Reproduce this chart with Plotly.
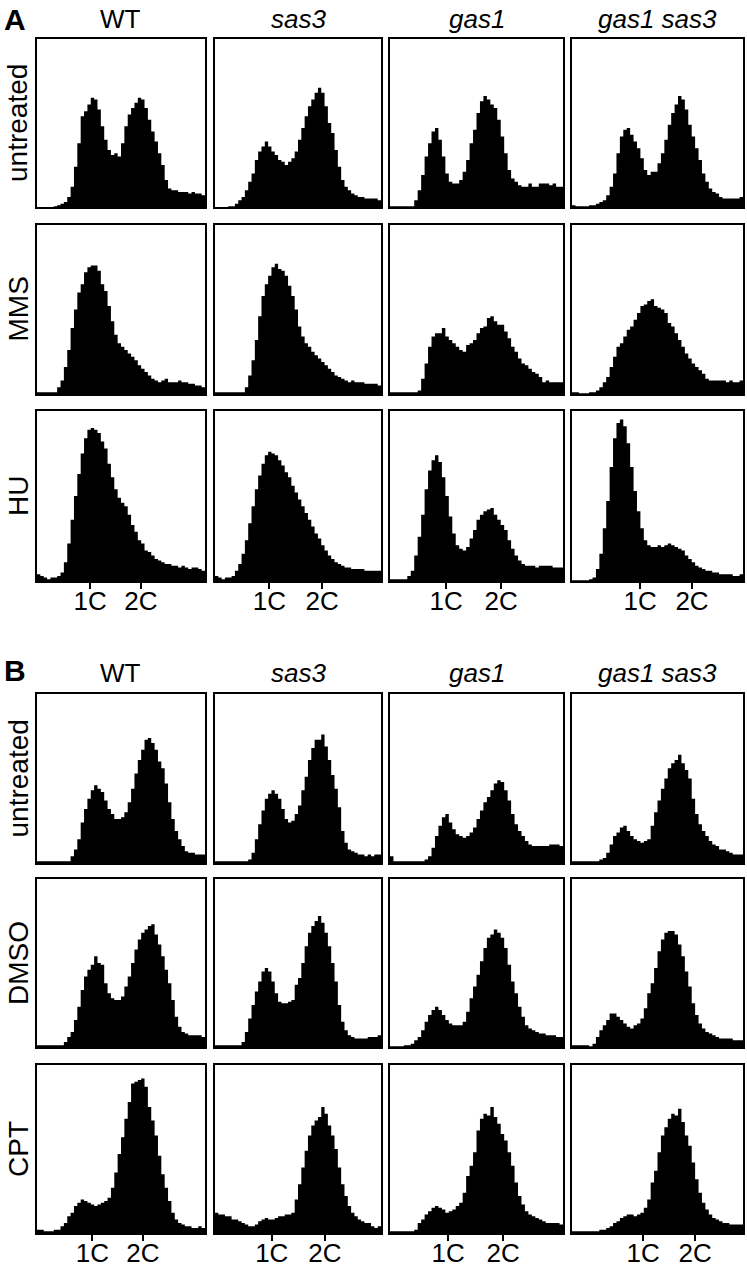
import plotly.graph_objects as go

# ---------------- data (relative cell counts, % of panel height, 50 DNA-content bins) ----------------
GENOTYPES = ["WT", "<i>sas3</i>", "<i>gas1</i>", "<i>gas1 sas3</i>"]
TREAT_A = ["untreated", "MMS", "HU"]
TREAT_B = ["untreated", "DMSO", "CPT"]
TICK_TEXT = ["1C", "2C"]
TICKS_A = [[15.8, 30.9], [16.4, 32.3], [16.2, 32.1], [19.9, 35.1]]
TICKS_B = [[16.5, 31.5], [17.1, 33.1], [16.8, 32.7], [20.8, 36.0]]

A_UNT_WT = [0, 0, 0, 0, 0, 0.5, 1, 2, 3, 6, 12, 24, 38, 54, 57, 61, 65, 64, 58, 48, 40, 34, 31, 32, 30,
            38, 48, 55, 59, 62, 65, 64, 59, 52, 45, 39, 32, 25, 16, 11, 10, 10, 9, 9, 9, 8, 9, 8, 8, 7]
A_UNT_SAS3 = [0, 0, 0, 0, 0.5, 0.5, 2, 4, 6, 10, 15, 20, 28, 33, 36, 39, 36, 33, 31, 28, 27, 25, 27, 29, 33,
              40, 47, 54, 60, 64, 68, 71, 68, 60, 50, 44, 34, 24, 16, 12, 10, 8, 7, 6, 6, 5, 5, 5, 5, 4]
A_UNT_GAS1 = [0.5, 0.5, 0.5, 0.5, 0.5, 0.5, 0.5, 4, 10, 19, 30, 38, 45, 47, 40, 30, 20, 15, 14, 14, 16, 21, 28, 38, 46,
              56, 63, 66, 64, 61, 59, 52, 42, 32, 22, 17, 15, 13, 12, 12, 14, 12, 12, 14, 14, 14, 13, 14, 12, 12]
A_UNT_GAS1SAS3 = [1, 0.5, 0.5, 0.5, 0.5, 1, 1, 2, 3, 4, 7, 12, 20, 32, 42, 46, 47, 43, 39, 35, 29, 22, 19, 21, 21,
                  26, 32, 40, 49, 56, 61, 66, 64, 58, 49, 42, 35, 28, 20, 15, 11, 9, 8, 6, 5, 5, 5, 5, 5, 6]

A_MMS_WT = [1, 1, 1, 1, 1, 1, 4, 8, 16, 26, 39, 50, 60, 65, 72, 75, 76, 76, 73, 65, 61, 52, 43, 35, 30,
            28, 26, 24, 22, 20, 17, 15, 13, 11, 9, 8, 7, 8, 9, 7, 7, 7, 8, 7, 7, 6, 6, 5, 5, 4]
A_MMS_SAS3 = [1, 1, 1, 1, 1, 1, 1, 1, 1, 4, 11, 20, 32, 46, 58, 65, 70, 75, 77, 74, 73, 70, 64, 58, 50,
              40, 34, 30, 28, 25, 23, 21, 19, 17, 15, 13, 11, 10, 9, 8, 7, 8, 7, 7, 7, 6, 6, 6, 6, 5]
A_MMS_GAS1 = [1, 1, 1, 1, 1, 1, 1, 1, 2, 9, 18, 28, 34, 36, 36, 39, 34, 32, 30, 28, 26, 25, 29, 30, 32,
              36, 39, 40, 45, 46, 43, 41, 41, 37, 33, 28, 25, 21, 18, 17, 15, 13, 12, 10, 7, 8, 7, 7, 7, 7]
A_MMS_GAS1SAS3 = [1, 1, 0.5, 0.5, 0.5, 1, 1, 2, 4, 7, 10, 16, 22, 28, 30, 34, 38, 40, 44, 48, 52, 53, 55, 56, 52,
                  51, 50, 48, 42, 40, 36, 32, 28, 24, 21, 18, 16, 14, 12, 9, 8, 8, 8, 8, 8, 7, 8, 7, 7, 8]

A_HU_WT = [4, 3, 2, 1, 2, 2, 3, 5, 11, 22, 36, 50, 63, 75, 84, 89, 90, 89, 87, 82, 78, 69, 61, 54, 49,
           46, 44, 39, 33, 29, 24, 22, 18, 17, 15, 13, 12, 11, 10, 10, 9, 9, 8, 9, 8, 7, 8, 8, 7, 6]
A_HU_SAS3 = [3, 2, 1, 2, 2, 3, 6, 10, 16, 24, 34, 44, 54, 62, 69, 74, 76, 75, 74, 71, 68, 64, 61, 56, 52,
             48, 44, 40, 36, 32, 28, 25, 21, 18, 15, 13, 11, 10, 9, 8, 8, 7, 7, 7, 7, 6, 6, 6, 6, 6]
A_HU_GAS1 = [1, 1, 1, 1, 1, 3, 6, 15, 26, 39, 54, 65, 71, 74, 70, 61, 50, 38, 28, 21, 19, 18, 20, 25, 30,
             36, 39, 41, 42, 43, 39, 36, 33, 30, 24, 19, 15, 12, 10, 9, 9, 9, 8, 9, 9, 9, 9, 8, 8, 8]
A_HU_GAS1SAS3 = [0.5, 0.5, 0.5, 0.5, 0.5, 1, 2, 7, 16, 31, 47, 67, 84, 93, 95, 91, 81, 67, 53, 41, 31, 24, 21, 20, 20,
                 21, 20, 21, 22, 21, 20, 19, 18, 15, 13, 11, 9, 8, 7, 6, 6, 5, 5, 4, 4, 4, 4, 3, 3, 4]

B_UNT_WT = [1, 1, 1, 1, 1, 1, 1, 1, 1, 1, 4, 8, 14, 24, 32, 38, 43, 46, 44, 42, 37, 32, 29, 26, 26,
            27, 30, 36, 44, 53, 61, 67, 73, 74, 71, 67, 60, 56, 47, 36, 26, 19, 14, 10, 7, 6, 6, 5, 5, 5]
B_UNT_SAS3 = [1, 1, 1, 1, 1, 1, 1, 1, 1, 1, 2, 6, 14, 23, 31, 38, 41, 43, 41, 38, 32, 26, 24, 25, 29,
              34, 43, 51, 61, 68, 73, 73, 76, 69, 61, 52, 44, 33, 19, 12, 8, 7, 6, 5, 5, 4, 5, 4, 5, 5]
B_UNT_GAS1 = [4, 1, 1, 1, 1, 1, 1, 1, 1, 1, 2, 4, 9, 16, 22, 27, 29, 24, 20, 17, 16, 15, 16, 18, 21,
              26, 31, 36, 39, 43, 47, 49, 48, 43, 37, 29, 23, 19, 16, 13, 11, 10, 10, 10, 10, 10, 11, 11, 11, 10]
B_UNT_GAS1SAS3 = [1, 1, 1, 1, 1, 1, 1, 1, 2, 3, 6, 11, 16, 18, 21, 22, 19, 16, 14, 13, 12, 13, 14, 22, 30,
                  37, 44, 50, 56, 59, 61, 64, 59, 55, 50, 38, 29, 23, 19, 16, 13, 11, 10, 8, 8, 7, 6, 5, 5, 5]

B_DMSO_WT = [1, 1, 1, 1, 1, 1, 1, 1, 3, 6, 9, 16, 24, 34, 42, 46, 49, 54, 50, 49, 38, 32, 29, 28, 28,
             30, 36, 42, 50, 58, 64, 68, 70, 72, 73, 67, 61, 54, 46, 38, 28, 18, 12, 9, 8, 7, 7, 7, 7, 6]
B_DMSO_SAS3 = [1, 1, 1, 1, 1, 1, 1, 1, 3, 9, 17, 25, 33, 39, 45, 47, 45, 39, 32, 27, 26, 26, 27, 28, 37,
               41, 50, 60, 68, 72, 75, 78, 74, 68, 60, 50, 39, 25, 15, 10, 7, 6, 5, 5, 5, 5, 6, 6, 6, 7]
B_DMSO_GAS1 = [0.5, 0.5, 0.5, 0.5, 1, 1, 2, 4, 6, 10, 15, 19, 22, 24, 22, 19, 16, 14, 13, 13, 13, 15, 21, 29, 36,
               43, 51, 59, 65, 67, 70, 68, 65, 59, 49, 39, 32, 24, 18, 13, 11, 10, 9, 8, 8, 7, 7, 7, 6, 6]
B_DMSO_GAS1SAS3 = [1, 1, 1, 1, 1, 0.5, 2, 6, 10, 13, 16, 20, 20, 18, 16, 14, 12, 11, 13, 14, 17, 23, 32, 38, 47,
                   57, 64, 68, 69, 69, 67, 61, 54, 45, 36, 26, 19, 14, 11, 9, 8, 7, 6, 5, 5, 5, 5, 4, 4, 4]

B_CPT_WT = [2, 2, 1, 1, 1, 2, 2, 4, 6, 10, 12, 16, 18, 20, 19, 18, 17, 16, 17, 18, 19, 21, 27, 36, 47,
            57, 68, 78, 89, 90, 91, 92, 87, 75, 67, 58, 46, 35, 27, 19, 12, 8, 6, 5, 4, 4, 3, 3, 4, 3]
B_CPT_SAS3 = [12, 11, 11, 10, 10, 8, 8, 7, 6, 5, 4, 4, 5, 7, 8, 9, 8, 8, 9, 10, 10, 11, 11, 12, 20,
              29, 39, 49, 58, 64, 67, 69, 75, 71, 64, 58, 50, 39, 29, 22, 16, 12, 10, 8, 7, 6, 6, 4, 3, 4]
B_CPT_GAS1 = [1, 1, 1, 1, 1, 1, 1, 2, 6, 8, 11, 13, 15, 16, 15, 14, 12, 13, 14, 16, 18, 24, 34, 40, 48,
              61, 68, 71, 70, 75, 69, 65, 59, 55, 48, 40, 30, 22, 17, 13, 11, 10, 9, 8, 7, 6, 6, 6, 6, 5]
B_CPT_GAS1SAS3 = [1, 1, 1, 1, 1, 1, 1, 1, 2, 2, 3, 4, 6, 7, 9, 10, 11, 11, 10, 11, 12, 15, 20, 30, 37,
                  48, 58, 63, 68, 71, 70, 74, 66, 58, 52, 42, 32, 24, 18, 14, 11, 9, 8, 7, 6, 6, 5, 5, 5, 5]

GRID = [
    [A_UNT_WT, A_UNT_SAS3, A_UNT_GAS1, A_UNT_GAS1SAS3],
    [A_MMS_WT, A_MMS_SAS3, A_MMS_GAS1, A_MMS_GAS1SAS3],
    [A_HU_WT, A_HU_SAS3, A_HU_GAS1, A_HU_GAS1SAS3],
    [B_UNT_WT, B_UNT_SAS3, B_UNT_GAS1, B_UNT_GAS1SAS3],
    [B_DMSO_WT, B_DMSO_SAS3, B_DMSO_GAS1, B_DMSO_GAS1SAS3],
    [B_CPT_WT, B_CPT_SAS3, B_CPT_GAS1, B_CPT_GAS1SAS3],
]

# ---------------- layout geometry (pixels) ----------------
W, H = 747, 1268
COL_PX = [(37, 205), (215, 381), (390, 563), (572, 743)]
ROW_PX = [(39, 207), (225, 394), (411, 581), (694, 863), (879, 1047), (1065, 1233)]
FONT = "Liberation Sans, Arial, Helvetica, sans-serif"


def px(xw):
    return xw / W


def py(yw):
    return 1 - yw / H


fig = go.Figure()
layout = dict(
    width=W, height=H, margin=dict(l=0, r=0, t=0, b=0, autoexpand=False),
    paper_bgcolor="white", plot_bgcolor="white", showlegend=False,
    font=dict(family=FONT, color="black"),
)

k = 0
for r, row in enumerate(GRID):
    for c, vals in enumerate(row):
        k += 1
        xa = "x" if k == 1 else f"x{k}"
        ya = "y" if k == 1 else f"y{k}"
        n = len(vals)
        fig.add_trace(go.Scatter(
            x=list(range(n + 1)), y=list(vals) + [vals[-1]],
            xaxis=xa, yaxis=ya, mode="lines",
            line=dict(width=0, shape="hv", color="black"),
            fill="tozeroy", fillcolor="black", hoverinfo="skip",
        ))
        x0, x1 = COL_PX[c]
        y0, y1 = ROW_PX[r]
        bottom = r in (2, 5)
        ticks = (TICKS_A if r < 3 else TICKS_B)[c]
        xname = "xaxis" if k == 1 else f"xaxis{k}"
        yname = "yaxis" if k == 1 else f"yaxis{k}"
        layout[xname] = dict(
            domain=[px(x0), px(x1)], range=[0, n], anchor=ya, automargin=False,
            showline=True, linecolor="black", linewidth=2, mirror=True,
            showgrid=False, zeroline=False, fixedrange=True,
            ticks="outside" if bottom else "", ticklen=6, tickwidth=2, tickcolor="black",
            tickvals=ticks if bottom else [], ticktext=TICK_TEXT if bottom else [],
            showticklabels=bottom, ticklabelstandoff=-10,
            tickfont=dict(family=FONT, size=26, color="black"),
        )
        layout[yname] = dict(
            domain=[py(y1), py(y0)], range=[0, 100], anchor=xa, automargin=False,
            showline=True, linecolor="black", linewidth=2, mirror=True,
            showgrid=False, zeroline=False, showticklabels=False, ticks="", fixedrange=True,
        )

ann = []
# column headers
for top_px in (19, 673):
    for c, g in enumerate(GENOTYPES):
        x0, x1 = COL_PX[c]
        ann.append(dict(text=g, x=px((x0 + x1) / 2), y=py(top_px), xref="paper", yref="paper",
                        showarrow=False, xanchor="center", yanchor="middle",
                        font=dict(family=FONT, size=26, color="black")))
# row labels
for r, t in enumerate(TREAT_A + TREAT_B):
    y0, y1 = ROW_PX[r]
    ann.append(dict(text=t, x=px(18), y=py((y0 + y1) / 2), xref="paper", yref="paper",
                    showarrow=False, textangle=-90, xanchor="center", yanchor="middle",
                    font=dict(family=FONT, size=28, color="black")))
# panel letters
for letter, ypx in (("A", 19), ("B", 670)):
    ann.append(dict(text=f"<b>{letter}</b>", x=px(15), y=py(ypx), xref="paper", yref="paper",
                    showarrow=False, xanchor="center", yanchor="middle",
                    font=dict(family=FONT, size=30, color="black")))

layout["annotations"] = ann
fig.update_layout(**layout)
fig.write_html("out.html", config={"displayModeBar": False},
               post_script="document.body.style.margin='0px';document.body.style.padding='0px';")
